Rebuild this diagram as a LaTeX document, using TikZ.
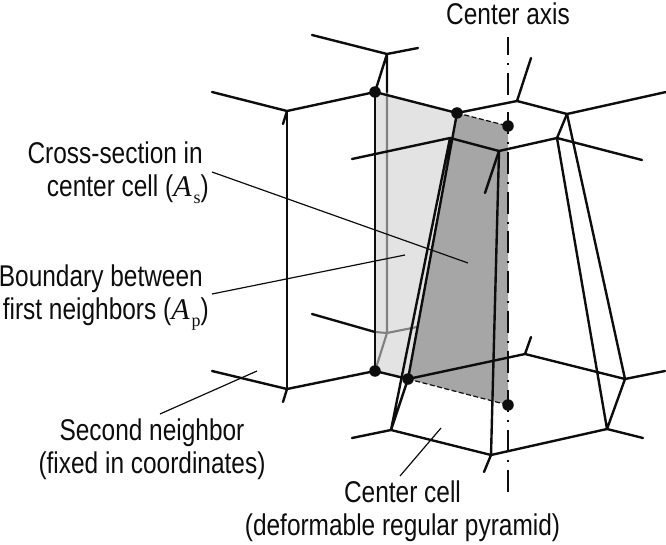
\documentclass[tikz,border=0pt]{standalone}
\usepackage{fontspec}
\setmainfont{Liberation Sans}
\newfontfamily\lab[FakeStretch=0.815]{Liberation Sans}
\newfontfamily\labsub{Liberation Serif}
\newcommand{\areaname}[1]{{\labsub\itshape A}\raisebox{-7pt}{\hspace{2pt}\labsub\fontsize{18}{18}\selectfont #1}}
\tikzset{
  edge/.style={line width=2.4pt,black!95,line cap=round,line join=round},
  grayedge/.style={line width=2.1pt,black!50},
  leader/.style={line width=1.2pt,black!95},
  dotmark/.style={circle,fill=black!95,inner sep=0pt,minimum size=11.5pt},
  lbl/.style={font=\lab\fontsize{30}{33}\selectfont,inner sep=0pt,text=black!95},
  axis/.style={line width=2.4pt,black!95,dash pattern=on 22pt off 7.8pt on 2pt off 7.9pt,dash phase=4pt},
  dashedge/.style={line width=1.2pt,black!95,dash pattern=on 5pt off 2.5pt}
}
\begin{document}
\begin{tikzpicture}[x=1pt,y=-1pt]
\useasboundingbox (0,0) rectangle (666,545);
% vertices
\coordinate (T1) at (312,35); \coordinate (T2) at (387,54); \coordinate (T3) at (418,48);
\coordinate (L0) at (212,92); \coordinate (L1) at (287,111); \coordinate (L2) at (283,124); \coordinate (A) at (375,92);
\coordinate (B) at (457,113); \coordinate (C) at (508,126);
\coordinate (R1) at (517,101); \coordinate (R2) at (531,58); \coordinate (R3) at (567,114); \coordinate (R4) at (666,92);
\coordinate (M0) at (352,159); \coordinate (M1) at (450,138); \coordinate (M2) at (499,151);
\coordinate (M3) at (557,138); \coordinate (M4) at (642,160); \coordinate (M5) at (485,193);
\coordinate (D0) at (212,371); \coordinate (D1) at (287,389); \coordinate (D2) at (283,402);
\coordinate (E) at (375,371); \coordinate (F) at (408,379); \coordinate (G) at (508,405);
\coordinate (H0) at (312,314); \coordinate (H1) at (375,332); \coordinate (H2) at (387,333); \coordinate (H3) at (417,327);
\coordinate (P1) at (525,354); \coordinate (P2) at (531,337); \coordinate (P3) at (625,379); \coordinate (P4) at (665,371);
\coordinate (P5) at (607,429); \coordinate (P6) at (643,438);
\coordinate (Q1) at (391,430); \coordinate (Q0) at (352,438); \coordinate (Q2) at (491,455); \coordinate (Q3) at (484,472);
\coordinate (AxT) at (508,37); \coordinate (AxB) at (508,492);
\coordinate (J) at (387,92);
% faces
\fill[black!11] (A) -- (B) -- (F) -- (E) -- cycle;
\fill[black!35] (B) -- (C) -- (G) -- (F) -- cycle;
% grey hidden edges
\draw[grayedge] (J) -- (H2) (H1) -- (H2) -- (H3) (H2) -- (E);
% edges
\draw[edge] (T1) -- (T2) -- (T3) (T2) -- (A) (T2) -- (J);
\draw[edge] (L0) -- (L1) -- (A) -- (B) -- (R1) -- (R3) -- (R4);
\draw[edge] (R1) -- (R2);
\draw[edge] (L1) -- (L2);
\draw[edge] (L1) -- (D1) (A) -- (E);
\draw[edge] (M0) -- (M1) -- (M2) -- (M3) -- (M4) (M2) -- (M5) (R3) -- (M3);
\draw[edge] (M2) -- (Q2) -- (Q3);
\draw[edge] (B) -- (F) -- (Q1) (M1) -- (Q1);
\draw[edge] (M3) -- (P5) (R3) -- (P3) -- (P5) -- (P6) (P3) -- (P4);
\draw[edge] (D0) -- (D1) -- (D2) (D1) -- (E) -- (F) -- (P1) -- (P3) (P1) -- (P2);
\draw[edge] (Q0) -- (Q1) -- (Q2) -- (P5);
\draw[edge] (H0) -- (H1);
\draw[dashedge] (B) -- (C) (F) -- (G);
% axis
\draw[axis] (AxT) -- (AxB);
% dots
\node[dotmark] (dA) at (A) {};
\node[dotmark] (dB) at (B) {};
\node[dotmark] (dC) at (C) {};
\node[dotmark] (dE) at (E) {};
\node[dotmark] (dF) at (F) {};
\node[dotmark] (dG) at (G) {};
% labels
\node[lbl,anchor=base] (tAxis) at (508,25) {Center axis};
\node[lbl,align=right,anchor=north east] (tCross) at (209,142) {Cross-section in\hspace*{6pt}\\center cell (\areaname{s})};
\node[lbl,align=right,anchor=north east] (tBound) at (209,265) {Boundary between\hspace*{6pt}\\first neighbors (\areaname{p})};
\node[lbl,align=center,anchor=north] (tSecond) at (152,419) {Second neighbor\\(fixed in coordinates)};
\node[lbl,align=center,anchor=north] (tCell) at (402.5,481) {Center cell\\(deformable regular pyramid)};
% leaders
\coordinate (l1a) at (212,172); \coordinate (l1b) at (468,263);
\coordinate (l2a) at (212,294); \coordinate (l2b) at (405,255);
\coordinate (l3a) at (160,414); \coordinate (l3b) at (257,371);
\coordinate (l4a) at (400,476); \coordinate (l4b) at (441,428);
\draw[leader] (l1a) -- (l1b);
\draw[leader] (l2a) -- (l2b);
\draw[leader] (l3a) -- (l3b);
\draw[leader] (l4a) -- (l4b);
\end{tikzpicture}
\end{document}
